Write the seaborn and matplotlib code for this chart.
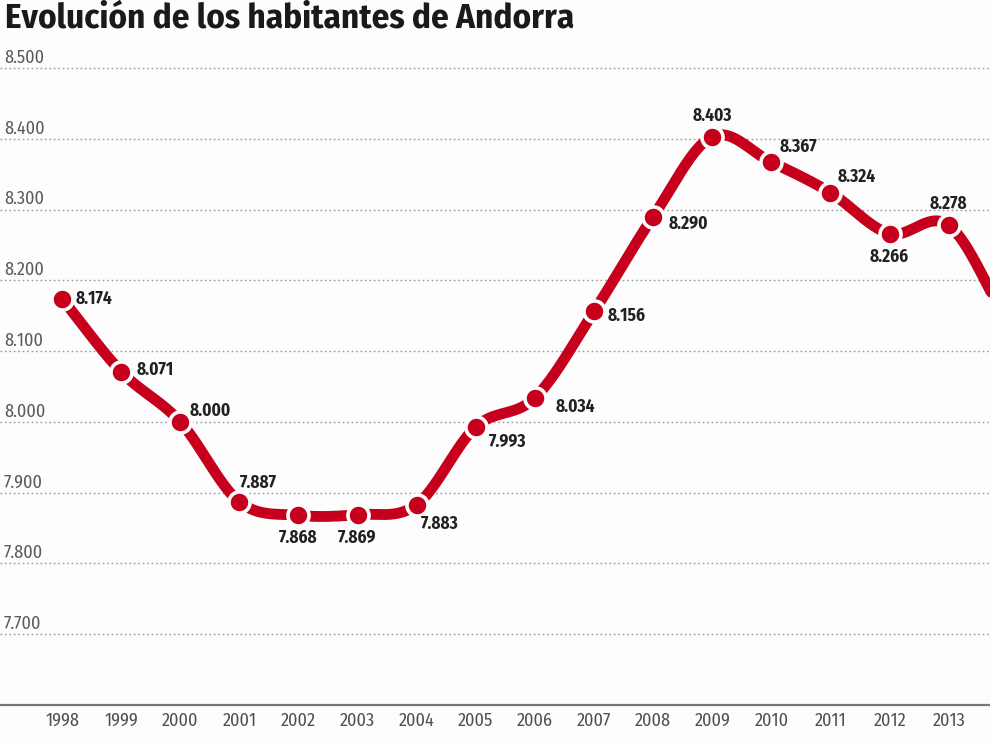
import numpy as np
import pandas as pd
import matplotlib
matplotlib.use('Agg')
import matplotlib.pyplot as plt
import seaborn as sns

# Data (2014 is only visible as the line leaving the frame)
years = [1998, 1999, 2000, 2001, 2002, 2003, 2004, 2005, 2006, 2007,
         2008, 2009, 2010, 2011, 2012, 2013, 2014]
habitantes = [8174, 8071, 8000, 7887, 7868, 7869, 7883, 7993, 8034, 8156,
              8290, 8403, 8367, 8324, 8266, 8278, 8140]
labelled_years = years[:16]
y_ticks = [7700, 7800, 7900, 8000, 8100, 8200, 8300, 8400, 8500]
y_tick_labels = ['7.700', '7.800', '7.900', '8.000', '8.100', '8.200', '8.300', '8.400', '8.500']
title = 'Evolución de los habitantes de Andorra'

# label placement per point: (dx px, dy px, ha)
label_pos = {
    1998: (14, 0, 'left'), 1999: (15, 2, 'left'), 2000: (9, 11, 'left'),
    2001: (1, 19, 'left'), 2002: (0, -23, 'center'), 2003: (0, -23, 'center'),
    2004: (4, -19, 'left'), 2005: (13, -15, 'left'), 2006: (21, -9, 'left'),
    2007: (14, -4, 'left'), 2008: (16, -7, 'left'), 2009: (0, 21, 'center'),
    2010: (8, 15, 'left'), 2011: (7, 16, 'left'), 2012: (0, -23, 'center'),
    2013: (0, 21, 'center'),
}

df = pd.DataFrame({'year': years, 'hab': habitantes})


def fmt(v):
    return f'{v:,}'.replace(',', '.')


# smooth curve through the points (cubic hermite, catmull-rom tangents)
x = np.array(years, dtype=float)
y = np.array(habitantes, dtype=float)
m = np.gradient(y, x)
xs, ys = [], []
for i in range(len(x) - 1):
    t = np.linspace(0, 1, 40)
    h00 = 2 * t**3 - 3 * t**2 + 1
    h10 = t**3 - 2 * t**2 + t
    h01 = -2 * t**3 + 3 * t**2
    h11 = t**3 - t**2
    dx = x[i + 1] - x[i]
    xs.append(x[i] + t * dx)
    ys.append(h00 * y[i] + h10 * dx * m[i] + h01 * y[i + 1] + h11 * dx * m[i + 1])
curve = pd.DataFrame({'year': np.concatenate(xs), 'hab': np.concatenate(ys)})

sns.set_style('white')
red = '#c6001c'
bg = '#fdfdfd'
cond = ['Fira Sans Condensed', 'Barlow Semi Condensed', 'Roboto Condensed',
        'PT Sans Narrow', 'Saira SemiCondensed', 'DejaVu Sans']

fig = plt.figure(figsize=(9.9, 7.42), dpi=100, facecolor=bg)
ax = fig.add_axes([0.0, 1 - 705 / 742, 1.0, (705 - 68) / 742])
ax.set_facecolor(bg)

ax.set_xlim(1996.95, 2013.70)
ax.set_ylim(7600, 8500)

# dotted gridlines
for v in y_ticks:
    ax.axhline(v, color='#9a9a9a', lw=1, ls=(0, (1.2, 2)), zorder=1, clip_on=False)

sns.lineplot(data=curve, x='year', y='hab', sort=False, color=red, lw=7.8,
             ax=ax, zorder=3, solid_capstyle='round')
sns.scatterplot(data=df[df['year'].isin(labelled_years)], x='year', y='hab', color=red,
                s=230, edgecolor=bg, linewidth=2.6, ax=ax, zorder=4, clip_on=False)

for yr, v in zip(years, habitantes):
    if yr not in label_pos:
        continue
    dx, dy, ha = label_pos[yr]
    ax.annotate(fmt(v), (yr, v), xytext=(dx * 0.72, dy * 0.72), textcoords='offset points',
                ha=ha, va='center', fontsize=12.5, fontweight='bold', color='#222222',
                family=cond, zorder=5)

# y labels sit above the gridlines at the left
ax.set_yticks([])
for v, lab in zip(y_ticks, y_tick_labels):
    ax.annotate(lab, (0.004, v), xycoords=ax.get_yaxis_transform(), xytext=(0, 1),
                textcoords='offset points', ha='left', va='bottom', fontsize=13,
                fontweight='normal', color='#5a5a5a', family=cond)

ax.set_xticks(labelled_years)
ax.set_xticklabels([str(v) for v in labelled_years], fontsize=13, fontweight='normal',
                   color='#505050', family=cond)
ax.tick_params(axis='x', length=0, pad=5)
ax.set_xlabel('')
ax.set_ylabel('')

for s in ['top', 'right', 'left']:
    ax.spines[s].set_visible(False)
ax.spines['bottom'].set_color('#777777')
ax.spines['bottom'].set_linewidth(1.6)

fig.text(0.005, 1 - 18 / 742, title, ha='left', va='center', fontsize=25.2,
         fontweight='bold', color='#1a1a1a', family=cond)

fig.savefig('out.png', dpi=100, facecolor=bg)
